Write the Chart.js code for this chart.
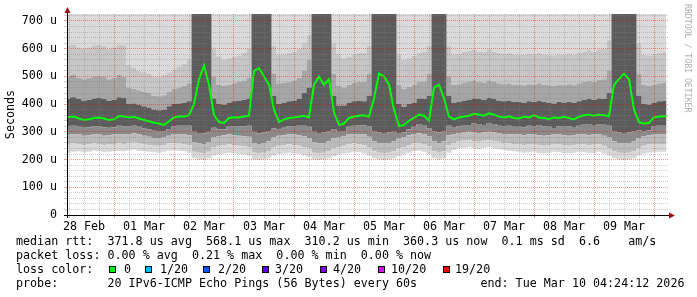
<!DOCTYPE html>
<html>
<head>
<meta charset="utf-8">
<script src="https://cdn.jsdelivr.net/npm/chart.js"></script>
<style>
html, body { margin: 0; padding: 0; background: #fff; }
#wrap { position: relative; width: 697px; height: 297px; overflow: hidden; }
#c { position: absolute; left: 0; top: 0; }
.txt { position: absolute; font-family: 'DejaVu Sans Mono', monospace; font-size: 11.7px; line-height: 14px; white-space: pre; color: #000; }
.box { position: absolute; width: 7px; height: 7px; box-sizing: border-box; border: 1px solid #000; }
#mark { position: absolute; left: 683px; top: 4px; font-family: 'DejaVu Sans Mono', monospace; font-size: 8.2px; color: #b0b0b0; writing-mode: vertical-rl; white-space: pre; }
</style>
</head>
<body>
<div id="wrap">
  <canvas id="c" width="697" height="297"></canvas>
  <div id="mark">RRDTOOL / TOBI OETIKER</div>
  <div class="txt" style="left:16px;top:234px">median rtt:  371.8 us avg  568.1 us max  310.2 us min  360.3 us now  0.1 ms sd  6.6    am/s</div>
  <div class="txt" style="left:16px;top:248px">packet loss: 0.00 % avg  0.21 % max  0.00 % min  0.00 % now</div>
  <div class="txt" style="left:16px;top:262px">loss color:</div>
  <div id="loss"></div>
  <div class="txt" style="left:16px;top:276px">probe:       20 IPv6-ICMP Echo Pings (56 Bytes) every 60s         end: Tue Mar 10 04:24:12 2026</div>
</div>
<script>
// hours since 28 Feb 00:00
const hours = [
  5, 8, 10, 12, 14, 16, 18, 20, 22, 24,
  26, 28, 30, 32, 34, 36, 38, 40, 42, 44,
  46, 48, 50, 52, 54, 56, 58, 60, 62, 64,
  66, 68, 70, 72, 74, 76, 78, 80, 82, 84,
  86, 88, 90, 92, 94, 96, 98, 100, 102, 104,
  106, 108, 110, 112, 114, 116, 118, 120, 122, 124,
  126, 128, 130, 132, 134, 136, 138, 140, 142, 144,
  146, 148, 150, 152, 154, 156, 158, 160, 162, 164,
  166, 168, 170, 172, 174, 176, 178, 180, 182, 184,
  186, 188, 190, 192, 194, 196, 198, 200, 202, 204,
  206, 208, 210, 212, 214, 216, 218, 220, 222, 224,
  226, 228, 230, 232, 234, 236, 238, 240, 242, 245
];
const dayLabels = ['28 Feb', '01 Mar', '02 Mar', '03 Mar', '04 Mar', '05 Mar', '06 Mar', '07 Mar', '08 Mar', '09 Mar'];
const yTickLabels = ['0', '100 u', '200 u', '300 u', '400 u', '500 u', '600 u', '700 u'];

// median rtt in microseconds
const medianRtt = [
  353, 355, 348, 343, 345, 350, 352, 348, 343, 345,
  357, 355, 352, 354, 348, 343, 338, 333, 330, 325,
  338, 352, 356, 355, 360, 400, 490, 540, 470, 360,
  335, 332, 350, 353, 352, 355, 358, 520, 530, 500,
  470, 380, 335, 345, 350, 352, 355, 358, 352, 470,
  500, 470, 490, 370, 325, 330, 350, 355, 358, 360,
  355, 420, 510, 500, 470, 380, 320, 325, 340, 350,
  362, 358, 340, 460, 470, 420, 355, 345, 352, 355,
  358, 365, 362, 358, 367, 362, 355, 352, 356, 350,
  348, 355, 352, 360, 352, 350, 346, 352, 350, 354,
  350, 345, 355, 360, 362, 358, 362, 360, 356, 470,
  490, 510, 490, 380, 335, 330, 332, 352, 355, 356
];

// smoke band edges (bottom to top)
const smokeMin = [
  225, 228, 230, 226, 228, 232, 230, 226, 228, 230, 232, 230,
  234, 236, 232, 230, 228, 226, 225, 228, 232, 234, 232, 230, 225,
  205, 200, 198, 205,
  215, 220, 222, 225, 222, 220, 218, 215,
  200, 198, 200, 205,
  215, 220, 222, 225, 222, 220, 215, 210,
  200, 198, 200, 205,
  212, 218, 222, 225, 228, 226, 222, 215,
  205, 200, 198, 200, 205,
  212, 218, 225, 230, 232, 228, 220,
  205, 200, 205,
  225, 235, 240, 242, 245, 240, 238, 242, 245, 240, 238, 235, 232, 230,
  228, 225, 226, 228, 224, 222, 225, 228, 226, 224, 222, 225, 228, 226, 224, 225, 228, 222, 215,
  205, 200, 198, 200, 205,
  215, 222, 225, 226, 228, 228
];
const smokeLow = [
  255, 258, 256, 252, 255, 258, 256, 252, 254, 256, 258, 256,
  260, 262, 258, 255, 252, 250, 250, 252, 258, 260, 258, 256, 252,
  228, 225, 222, 228,
  245, 250, 252, 255, 252, 250, 248, 245,
  225, 222, 225, 230,
  245, 250, 252, 255, 252, 250, 245, 240,
  225, 222, 225, 230,
  240, 245, 250, 255, 258, 256, 252, 245,
  230, 225, 222, 225, 230,
  240, 245, 252, 258, 260, 256, 248,
  230, 225, 230,
  252, 260, 265, 268, 270, 266, 264, 268, 270, 266, 264, 260, 258, 256,
  255, 252, 254, 256, 252, 250, 252, 256, 254, 252, 250, 252, 256, 254, 252, 254, 256, 250, 242,
  230, 225, 222, 225, 230,
  242, 250, 254, 255, 256, 256
];
const smokeMid = [
  290, 292, 290, 286, 288, 292, 290, 286, 288, 290, 292, 290,
  292, 294, 290, 286, 282, 278, 278, 280, 286, 292, 292, 290, 288,
  262, 258, 256, 262,
  280, 284, 288, 290, 288, 286, 284, 282,
  260, 256, 260, 265,
  280, 286, 288, 290, 290, 288, 284, 278,
  262, 258, 260, 265,
  278, 280, 285, 290, 292, 292, 290, 282,
  265, 260, 258, 260, 265,
  275, 280, 288, 292, 295, 292, 284,
  265, 260, 265,
  288, 292, 296, 298, 300, 298, 296, 298, 300, 298, 296, 292, 290, 290,
  290, 288, 290, 292, 288, 286, 288, 292, 290, 288, 286, 288, 292, 290, 288, 290, 292, 286, 280,
  265, 260, 258, 260, 265,
  278, 285, 288, 290, 290, 290
];
const smokeCoreLow = [
  320, 322, 318, 315, 316, 320, 320, 316, 315, 316, 322, 320,
  320, 322, 318, 312, 308, 304, 302, 302, 310, 320, 322, 322, 322,
  300, 296, 295, 300,
  315, 308, 308, 318, 320, 320, 320, 322,
  300, 295, 298, 302,
  312, 310, 315, 320, 320, 322, 322, 318,
  300, 296, 298, 302,
  310, 300, 302, 318, 322, 324, 324, 320,
  302, 298, 296, 298, 300,
  296, 298, 308, 318, 328, 325, 312,
  302, 298, 302,
  322, 315, 320, 322, 325, 330, 328, 325, 332, 328, 322, 320, 322, 318,
  318, 316, 322, 320, 325, 320, 318, 314, 320, 318, 320, 315, 322, 326, 328, 325, 328, 326, 322,
  302, 298, 296, 298, 302,
  305, 302, 305, 320, 322, 322
];
const smokeCoreHigh = [
  420, 425, 418, 412, 415, 420, 422, 418, 412, 415, 425, 422,
  400, 402, 398, 392, 388, 380, 378, 380, 392, 400, 402, 405, 410,
  725, 725, 725, 725,
  420, 400, 398, 405, 410, 412, 415, 420,
  725, 725, 725, 725,
  430, 400, 405, 410, 412, 418, 440, 460,
  725, 725, 725, 725,
  430, 395, 395, 405, 410, 412, 410, 430,
  725, 725, 725, 725, 725,
  400, 390, 400, 405, 420, 418, 430,
  725, 725, 725,
  430, 405, 408, 412, 415, 420, 418, 415, 422, 418, 412, 410, 412, 408,
  408, 405, 410, 408, 412, 408, 405, 402, 408, 405, 408, 404, 410, 415, 418, 415, 420, 418, 440,
  725, 725, 725, 725, 725,
  430, 400, 398, 405, 410, 412
];
const smokeHigh = [
  500, 505, 495, 490, 495, 500, 502, 498, 490, 495, 505, 500,
  460, 455, 450, 445, 440, 430, 428, 432, 445, 455, 460, 465, 475,
  725, 725, 725, 725,
  500, 470, 465, 470, 475, 480, 485, 495,
  725, 725, 725, 725,
  510, 475, 478, 480, 485, 495, 520, 560,
  725, 725, 725, 725,
  510, 465, 460, 470, 478, 482, 480, 510,
  725, 725, 725, 725, 725,
  470, 455, 462, 470, 480, 482, 510,
  725, 725, 725,
  500, 470, 472, 478, 482, 485, 480, 478, 485, 480, 475, 472, 475, 470,
  470, 468, 472, 470, 475, 470, 468, 465, 470, 468, 472, 468, 475, 480, 485, 480, 488, 490, 520,
  725, 725, 725, 725, 725,
  510, 470, 465, 470, 475, 478
];
const smokeUpper = [
  610, 615, 605, 600, 605, 612, 615, 610, 600, 605, 615, 612,
  540, 530, 520, 515, 510, 500, 498, 505, 515, 525, 535, 545, 560,
  725, 725, 725, 725,
  600, 570, 560, 565, 570, 575, 585, 600,
  725, 725, 725, 725,
  610, 580, 580, 585, 590, 600, 620, 650,
  725, 725, 725, 725,
  620, 580, 565, 570, 580, 585, 585, 610,
  725, 725, 725, 725, 725,
  580, 560, 565, 575, 585, 590, 610,
  725, 725, 725,
  610, 580, 582, 588, 592, 595, 590, 588, 595, 590, 585, 582, 585, 580,
  580, 578, 582, 580, 585, 580, 578, 575, 580, 578, 582, 578, 585, 590, 595, 590, 598, 600, 630,
  725, 725, 725, 725, 725,
  620, 580, 575, 580, 585, 588
];

const lossLabels = ['0', '1/20', '2/20', '3/20', '4/20', '10/20', '19/20'];
const lossColors = ['#00ff00', '#00b8ff', '#0059ff', '#5e00ff', '#7e00ff', '#dd00ff', '#ff0000'];
const lossBoxX = [109, 145, 203, 262, 320, 378, 443];
const lossTextX = [124, 160, 218, 275, 333, 391, 455];

const lossDiv = document.getElementById('loss');
lossLabels.forEach((l, i) => {
  const b = document.createElement('div');
  b.className = 'box';
  b.style.left = lossBoxX[i] + 'px';
  b.style.top = '266px';
  b.style.background = lossColors[i];
  lossDiv.appendChild(b);
  const t = document.createElement('div');
  t.className = 'txt';
  t.style.left = lossTextX[i] + 'px';
  t.style.top = '262px';
  t.textContent = l;
  lossDiv.appendChild(t);
});

const MAJOR = 'rgba(230,0,0,0.4)';
const MINOR = 'rgba(130,130,130,0.4)';
const FONT = { family: 'DejaVu Sans Mono', size: 11.7 };

const xGrid = [];
for (let h = 6; h <= 240; h += 6) xGrid.push(h);
const yGrid = [];
for (let v = 0; v <= 720; v += 20) yGrid.push(v);

const pts = arr => hours.map((h, i) => ({ x: h, y: arr[i] }));
const band = (arr, color, fill) => ({
  data: pts(arr), fill: fill, backgroundColor: color, stepped: 'middle',
  borderColor: 'transparent', borderWidth: 0, pointRadius: 0
});

const axesPlugin = {
  id: 'axes',
  afterDraw(chart) {
    const { ctx, chartArea: a } = chart;
    ctx.save();
    ctx.strokeStyle = '#000';
    ctx.lineWidth = 1;
    ctx.beginPath();
    ctx.moveTo(a.left - 3, a.bottom + 0.5);
    ctx.lineTo(a.right + 2, a.bottom + 0.5);
    ctx.moveTo(a.left + 0.5, a.bottom + 3);
    ctx.lineTo(a.left + 0.5, a.top - 3);
    ctx.stroke();
    ctx.fillStyle = '#a01010';
    ctx.beginPath();
    ctx.moveTo(a.left + 0.5, a.top - 7);
    ctx.lineTo(a.left - 2.5, a.top - 1);
    ctx.lineTo(a.left + 3.5, a.top - 1);
    ctx.fill();
    ctx.beginPath();
    ctx.moveTo(a.right + 7, a.bottom + 0.5);
    ctx.lineTo(a.right + 1, a.bottom - 2.5);
    ctx.lineTo(a.right + 1, a.bottom + 3.5);
    ctx.fill();
    ctx.restore();
  }
};

new Chart(document.getElementById('c'), {
  type: 'line',
  data: {
    datasets: [
      { data: pts(medianRtt), borderColor: '#00ff00', borderWidth: 2, pointRadius: 0, fill: false, order: -1 },
      band(smokeMin, 'transparent', false),
      band(smokeLow, '#d8d8d8', '-1'),
      band(smokeMid, '#bbbbbb', '-1'),
      band(smokeCoreLow, '#8a8a8a', '-1'),
      band(smokeCoreHigh, '#5c5c5c', '-1'),
      band(smokeHigh, '#a6a6a6', '-1'),
      band(smokeUpper, '#c6c6c6', '-1'),
      band(smokeUpper, '#dadada', 'end')
    ]
  },
  options: {
    responsive: false,
    animation: false,
    devicePixelRatio: 1,
    layout: { padding: { left: 0, top: 14, right: 29, bottom: 62 } },
    plugins: { legend: { display: false }, tooltip: { enabled: false } },
    scales: {
      x: {
        type: 'linear', min: 5.2, max: 245.6,
        afterBuildTicks: s => { s.ticks = xGrid.map(v => ({ value: v })); },
        afterFit: s => { s.height = 20; },
        grid: { z: 1, color: c => (c.tick && c.tick.value % 24 === 0) ? MAJOR : MINOR, tickLength: 3 },
        border: { display: false, dash: [1, 1] },
        ticks: {
          autoSkip: false, maxRotation: 0, padding: 2, color: '#000', font: FONT,
          callback: v => v % 24 === 12 ? dayLabels[(v - 12) / 24] : ''
        }
      },
      y: {
        min: 0, max: 725,
        afterBuildTicks: s => { s.ticks = yGrid.map(v => ({ value: v })); },
        afterFit: s => { s.width = 67; },
        grid: { z: 1, color: c => (c.tick && c.tick.value % 100 === 0) ? MAJOR : MINOR, tickLength: 3 },
        border: { display: false, dash: [1, 1] },
        title: { display: true, text: 'Seconds', color: '#000', font: FONT, padding: { top: 4, bottom: 0 } },
        ticks: {
          autoSkip: false, padding: 7, color: '#000', font: FONT,
          callback: v => v % 100 === 0 ? yTickLabels[v / 100] : ''
        }
      }
    }
  },
  plugins: [axesPlugin]
});
</script>
</body>
</html>
